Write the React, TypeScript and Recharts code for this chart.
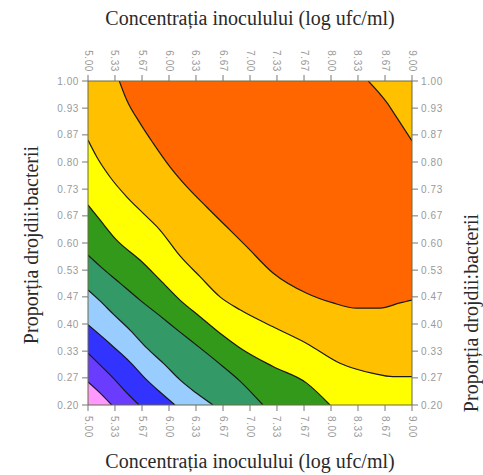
import { Area, ComposedChart, XAxis, YAxis } from "recharts";

type Pt = { x: number; y: number };

const X_TICKS = [5, 5.333, 5.667, 6, 6.333, 6.667, 7, 7.333, 7.667, 8, 8.333, 8.667, 9];
const Y_TICKS = [0.2, 0.267, 0.333, 0.4, 0.467, 0.533, 0.6, 0.667, 0.733, 0.8, 0.867, 0.933, 1];

const X_TITLE = "Concentrația inoculului (log ufc/ml)";
const Y_TITLE = "Proporția drojdii:bacterii";

// contour lines: x = log ufc/ml, y = proportion
const plotFrame: Pt[] = [
  { x: 5, y: 1 },
  { x: 9, y: 1 },
];
// lower edge of the top (orange) band, filled up to 1.00
const orangeEdge: Pt[] = [
  { x: 5.386, y: 1 },
  { x: 5.478, y: 0.953 },
  { x: 5.642, y: 0.896 },
  { x: 5.806, y: 0.846 },
  { x: 6.012, y: 0.788 },
  { x: 6.219, y: 0.739 },
  { x: 6.465, y: 0.689 },
  { x: 6.712, y: 0.64 },
  { x: 6.959, y: 0.591 },
  { x: 7.284, y: 0.526 },
  { x: 7.7, y: 0.476 },
  { x: 8.025, y: 0.452 },
  { x: 8.317, y: 0.439 },
  { x: 8.605, y: 0.439 },
  { x: 8.852, y: 0.452 },
  { x: 9, y: 0.459 },
];
// top-right corner, back to the gold level
const cornerEdge: Pt[] = [
  { x: 8.46, y: 1 },
  { x: 8.688, y: 0.947 },
  { x: 8.811, y: 0.91 },
  { x: 9, y: 0.852 },
];
const goldYellow: Pt[] = [
  { x: 5, y: 0.854 },
  { x: 5.107, y: 0.813 },
  { x: 5.272, y: 0.763 },
  { x: 5.478, y: 0.714 },
  { x: 5.683, y: 0.673 },
  { x: 5.889, y: 0.632 },
  { x: 6.136, y: 0.568 },
  { x: 6.383, y: 0.517 },
  { x: 6.63, y: 0.467 },
  { x: 6.877, y: 0.435 },
  { x: 7.284, y: 0.393 },
  { x: 7.7, y: 0.352 },
  { x: 8.111, y: 0.303 },
  { x: 8.519, y: 0.278 },
  { x: 8.765, y: 0.27 },
  { x: 9, y: 0.27 },
];
const yellowGreen: Pt[] = [
  { x: 5, y: 0.694 },
  { x: 5.148, y: 0.657 },
  { x: 5.354, y: 0.607 },
  { x: 5.642, y: 0.558 },
  { x: 5.889, y: 0.509 },
  { x: 6.136, y: 0.459 },
  { x: 6.383, y: 0.418 },
  { x: 6.63, y: 0.377 },
  { x: 6.877, y: 0.341 },
  { x: 7.284, y: 0.295 },
  { x: 7.7, y: 0.254 },
  { x: 7.988, y: 0.2 },
];
const greenTeal: Pt[] = [
  { x: 5, y: 0.57 },
  { x: 5.148, y: 0.543 },
  { x: 5.395, y: 0.501 },
  { x: 5.642, y: 0.459 },
  { x: 5.889, y: 0.42 },
  { x: 6.136, y: 0.38 },
  { x: 6.383, y: 0.341 },
  { x: 6.63, y: 0.301 },
  { x: 6.877, y: 0.259 },
  { x: 7.16, y: 0.2 },
];
const tealSky: Pt[] = [
  { x: 5, y: 0.484 },
  { x: 5.148, y: 0.457 },
  { x: 5.309, y: 0.425 },
  { x: 5.519, y: 0.385 },
  { x: 5.725, y: 0.341 },
  { x: 5.951, y: 0.299 },
  { x: 6.136, y: 0.262 },
  { x: 6.333, y: 0.23 },
  { x: 6.543, y: 0.2 },
];
const skyBlue: Pt[] = [
  { x: 5, y: 0.398 },
  { x: 5.312, y: 0.344 },
  { x: 5.519, y: 0.306 },
  { x: 5.725, y: 0.262 },
  { x: 5.889, y: 0.232 },
  { x: 6.074, y: 0.2 },
];
const bluePurple: Pt[] = [
  { x: 5, y: 0.328 },
  { x: 5.148, y: 0.299 },
  { x: 5.309, y: 0.267 },
  { x: 5.469, y: 0.232 },
  { x: 5.63, y: 0.2 },
];
const purplePink: Pt[] = [
  { x: 5, y: 0.257 },
  { x: 5.148, y: 0.23 },
  { x: 5.293, y: 0.2 },
];

const GOLD = "#FFC000";
const ORANGE = "#FF6600";

// each band is filled from its upper contour down to 0.20, drawn outside-in
const lowerBands = [
  { key: "yellow", data: goldYellow, fill: "#FFFF00" },
  { key: "green", data: yellowGreen, fill: "#33991A" },
  { key: "teal", data: greenTeal, fill: "#339966" },
  { key: "sky", data: tealSky, fill: "#99CCFF" },
  { key: "blue", data: skyBlue, fill: "#3333FF" },
  { key: "purple", data: bluePurple, fill: "#6A3CFF" },
  { key: "pink", data: purplePink, fill: "#FF99FF" },
];

const LINE = "#1a1a1a";
const FRAME = "#6b6b40";
const TICK_TEXT = "#9a9a9a";
const tickFont = { fontFamily: "'Liberation Sans', Arial, sans-serif", fontSize: 10, letterSpacing: 0.6 };

function XTick(props: any) {
  const { x, y, payload, side } = props;
  const top = side === "top";
  return (
    <text
      x={x}
      y={y}
      transform={`rotate(90 ${x} ${y})`}
      textAnchor={top ? "end" : "start"}
      dy="0.35em"
      fill={TICK_TEXT}
      {...tickFont}
    >
      {Number(payload.value).toFixed(2)}
    </text>
  );
}

const fmtY = (v: number) => v.toFixed(2);

export default function App() {
  return (
    <div style={{ position: "absolute", left: 0, top: 0, width: 483, height: 475, background: "#fff" }}>
      <ComposedChart width={483} height={475} margin={{ top: 0, right: 0, bottom: 0, left: 0 }}>
        <XAxis
          xAxisId="bottom"
          orientation="bottom"
          dataKey="x"
          type="number"
          domain={[5, 9]}
          allowDataOverflow
          ticks={X_TICKS}
          height={70}
          tickSize={6}
          tickMargin={5}
          axisLine={{ stroke: FRAME }}
          tickLine={{ stroke: "#777" }}
          tick={<XTick side="bottom" />}
          interval={0}
        />
        <XAxis
          xAxisId="top"
          orientation="top"
          dataKey="x"
          type="number"
          domain={[5, 9]}
          allowDataOverflow
          ticks={X_TICKS}
          height={81}
          tickSize={6}
          tickMargin={3}
          axisLine={{ stroke: FRAME }}
          tickLine={{ stroke: "#777" }}
          tick={<XTick side="top" />}
          interval={0}
        />
        <YAxis
          yAxisId="left"
          orientation="left"
          type="number"
          domain={[0.2, 1]}
          allowDataOverflow
          ticks={Y_TICKS}
          width={88}
          tickSize={6}
          tickMargin={3}
          axisLine={{ stroke: FRAME }}
          tickLine={{ stroke: "#777" }}
          tick={{ fill: TICK_TEXT, ...tickFont }}
          tickFormatter={fmtY}
          interval={0}
        />
        <YAxis
          yAxisId="right"
          orientation="right"
          type="number"
          domain={[0.2, 1]}
          allowDataOverflow
          ticks={Y_TICKS}
          width={71}
          tickSize={6}
          tickMargin={3}
          axisLine={{ stroke: FRAME }}
          tickLine={{ stroke: "#777" }}
          tick={{ fill: TICK_TEXT, ...tickFont }}
          tickFormatter={fmtY}
          interval={0}
        />

        <Area
          data={plotFrame}
          dataKey="y"
          xAxisId="bottom"
          yAxisId="left"
          type="linear"
          baseValue={0.2}
          fill={GOLD}
          fillOpacity={1}
          stroke="none"
          activeDot={false}
          isAnimationActive={false}
        />
        <Area
          data={orangeEdge}
          dataKey="y"
          xAxisId="bottom"
          yAxisId="left"
          type="monotone"
          baseValue={1}
          fill={ORANGE}
          fillOpacity={1}
          stroke={LINE}
          strokeWidth={1.2}
          activeDot={false}
          isAnimationActive={false}
        />
        <Area
          data={cornerEdge}
          dataKey="y"
          xAxisId="bottom"
          yAxisId="left"
          type="monotone"
          baseValue={1}
          fill={GOLD}
          fillOpacity={1}
          stroke={LINE}
          strokeWidth={1.2}
          activeDot={false}
          isAnimationActive={false}
        />
        {lowerBands.map((band) => (
          <Area
            key={band.key}
            data={band.data}
            dataKey="y"
            xAxisId="bottom"
            yAxisId="left"
            type="monotone"
            baseValue={0.2}
            fill={band.fill}
            fillOpacity={1}
            stroke={LINE}
            strokeWidth={1.2}
            activeDot={false}
            isAnimationActive={false}
          />
        ))}
      </ComposedChart>
      <svg
        width={483}
        height={475}
        style={{ position: "absolute", left: 0, top: 0, pointerEvents: "none" }}
      >
        <g fontFamily="'Liberation Serif', 'Times New Roman', serif" fontSize={20} fill="#2a2a2a">
          <text x={250} y={25} textAnchor="middle">
            {X_TITLE}
          </text>
          <text x={250} y={468} textAnchor="middle">
            {X_TITLE}
          </text>
          <text x={38} y={245} textAnchor="middle" transform="rotate(-90 38 245)">
            {Y_TITLE}
          </text>
          <text x={478} y={313} textAnchor="middle" transform="rotate(-90 478 313)">
            {Y_TITLE}
          </text>
        </g>
      </svg>
    </div>
  );
}
